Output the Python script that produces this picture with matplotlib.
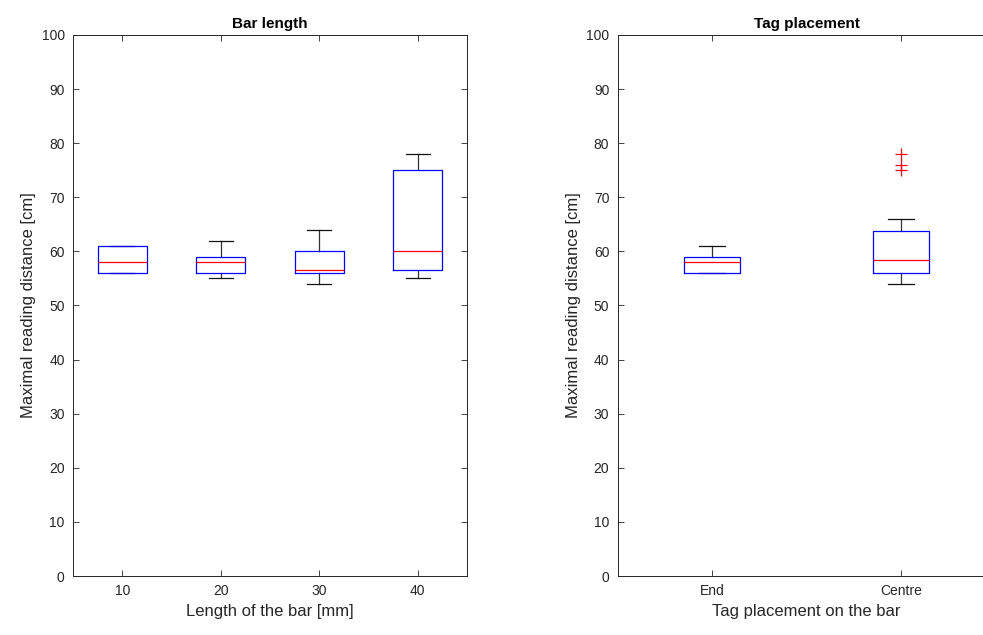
import matplotlib
matplotlib.use("Agg")
import matplotlib.pyplot as plt

plt.rcParams['font.family'] = ['Liberation Sans', 'DejaVu Sans']

# Left panel: bar length
bar_lengths = [10, 20, 30, 40]
bl_whislo = [56, 55, 54, 55]
bl_q1 = [56, 56, 56, 56.5]
bl_med = [58, 58, 56.5, 60]
bl_q3 = [61, 59, 60, 75]
bl_whishi = [61, 62, 64, 78]

# Right panel: tag placement
tag_labels = ["End", "Centre"]
tp_whislo = [56, 54]
tp_q1 = [56, 56]
tp_med = [58, 58.5]
tp_q3 = [59, 63.7]
tp_whishi = [61, 66]
tp_fliers = [[], [78, 76, 75]]

yticks = list(range(0, 101, 10))

text_col = (0.15, 0.15, 0.15)


def make_stats(lo, q1, med, q3, hi, fl=None):
    out = []
    for i in range(len(lo)):
        out.append(dict(whislo=lo[i], q1=q1[i], med=med[i], q3=q3[i],
                        whishi=hi[i], fliers=(fl[i] if fl else [])))
    return out


fig = plt.figure(figsize=(9.83, 6.35), dpi=100)
ax1 = fig.add_axes([0.0743, 0.0929, 0.4008, 0.852])
ax2 = fig.add_axes([0.6283, 0.0929, 0.3845, 0.852])

common = dict(
    boxprops=dict(color='#0000ff', linewidth=0.9, zorder=4),
    medianprops=dict(color='#ff0000', linewidth=0.9, zorder=5),
    whiskerprops=dict(color='#333333', linewidth=0.9, zorder=2),
    capprops=dict(color='#111111', linewidth=0.9, zorder=2),
    flierprops=dict(marker='+', markeredgecolor='#ff0000', markersize=8,
                    linestyle='none', markeredgewidth=0.9),
)

ax1.bxp(make_stats(bl_whislo, bl_q1, bl_med, bl_q3, bl_whishi),
        positions=bar_lengths, widths=5.0, capwidths=2.4, **common)
ax1.set_xlim(5, 45)
ax1.set_xticks(bar_lengths)
ax1.set_xticklabels([str(b) for b in bar_lengths])
ax1.set_title("Bar length", fontsize=11, fontweight='bold', color='black', pad=5)
ax1.set_xlabel("Length of the bar [mm]", fontsize=12, color=text_col)

ax2.bxp(make_stats(tp_whislo, tp_q1, tp_med, tp_q3, tp_whishi, tp_fliers),
        positions=[1, 2], widths=0.3, capwidths=0.14, **common)
ax2.set_xlim(0.5, 2.5)
ax2.set_xticks([1, 2])
ax2.set_xticklabels(tag_labels)
ax2.set_title("Tag placement", fontsize=11, fontweight='bold', color='black', pad=5)
ax2.set_xlabel("Tag placement on the bar", fontsize=12, color=text_col)

for ax in (ax1, ax2):
    ax.set_ylim(0, 100)
    ax.set_yticks(yticks)
    ax.set_ylabel("Maximal reading distance [cm]", fontsize=12, color=text_col)
    ax.tick_params(direction='in', top=True, right=True, length=4,
                   width=0.6, colors=text_col, labelsize=10, pad=6)
    for s in ax.spines.values():
        s.set_color(text_col)
        s.set_linewidth(0.7)

fig.savefig("out.png", dpi=100, facecolor='white')
